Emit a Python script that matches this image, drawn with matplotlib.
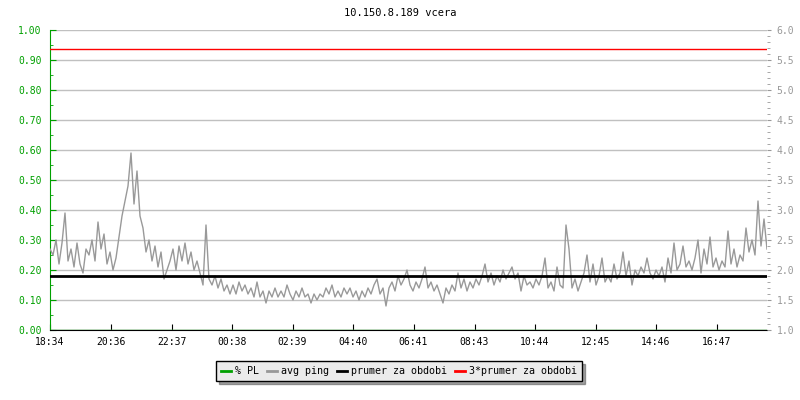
import matplotlib
matplotlib.use("Agg")
import matplotlib.pyplot as plt
from matplotlib.ticker import MultipleLocator, FormatStrFormatter

# minutes since 18:34, one sample every 6 minutes
step = 6
avg_ping = [
    2.35, 2.25, 2.50, 2.10, 2.45, 2.95, 2.15, 2.35, 2.05, 2.45,
    2.10, 1.95, 2.35, 2.25, 2.50, 2.15, 2.80, 2.35, 2.60, 2.10,
    2.30, 2.00, 2.20, 2.55, 2.90, 3.15, 3.40, 3.95, 3.10, 3.65,
    2.90, 2.70, 2.30, 2.50, 2.15, 2.40, 2.05, 2.30, 1.85, 2.00,
    2.15, 2.35, 2.00, 2.40, 2.15, 2.45, 2.10, 2.30, 2.00, 2.15,
    1.95, 1.75, 2.75, 1.85, 1.75, 1.90, 1.70, 1.85, 1.65, 1.75,
    1.60, 1.75, 1.60, 1.80, 1.65, 1.75, 1.60, 1.70, 1.55, 1.80,
    1.55, 1.65, 1.45, 1.65, 1.55, 1.70, 1.55, 1.65, 1.55, 1.75,
    1.60, 1.50, 1.65, 1.55, 1.70, 1.55, 1.60, 1.45, 1.60, 1.50,
    1.60, 1.55, 1.70, 1.60, 1.75, 1.55, 1.65, 1.55, 1.70, 1.60,
    1.70, 1.55, 1.65, 1.50, 1.65, 1.55, 1.70, 1.60, 1.75, 1.85,
    1.60, 1.70, 1.40, 1.70, 1.80, 1.65, 1.90, 1.75, 1.85, 2.00,
    1.75, 1.65, 1.80, 1.70, 1.85, 2.05, 1.70, 1.80, 1.65, 1.75,
    1.60, 1.45, 1.70, 1.60, 1.75, 1.65, 1.95, 1.70, 1.85, 1.65,
    1.80, 1.70, 1.85, 1.75, 1.90, 2.10, 1.80, 1.95, 1.75, 1.90,
    1.80, 2.00, 1.85, 1.95, 2.05, 1.85, 1.95, 1.65, 1.90, 1.75,
    1.80, 1.70, 1.85, 1.75, 1.90, 2.20, 1.70, 1.80, 1.65, 2.05,
    1.75, 1.70, 2.75, 2.35, 1.70, 1.85, 1.65, 1.80, 1.95, 2.25,
    1.80, 2.10, 1.75, 1.90, 2.20, 1.80, 1.90, 1.80, 2.10, 1.85,
    1.95, 2.30, 1.90, 2.15, 1.75, 2.00, 1.90, 2.05, 1.95, 2.20,
    1.95, 1.85, 2.00, 1.90, 2.05, 1.80, 2.20, 1.95, 2.45, 2.00,
    2.10, 2.40, 2.05, 2.15, 2.00, 2.20, 2.50, 1.95, 2.35, 2.10,
    2.55, 2.05, 2.20, 2.00, 2.15, 2.05, 2.65, 2.10, 2.35, 2.05,
    2.25, 2.15, 2.70, 2.30, 2.50, 2.25, 3.15, 2.40, 2.85, 2.35,
]
times = [i * step for i in range(len(avg_ping))]

packet_loss = 0.0
prumer = 1.895
prumer3 = 3 * prumer

tick_minutes = [0, 122, 243, 364, 485, 606, 727, 849, 970, 1091, 1212, 1333]
tick_labels = ["18:34", "20:36", "22:37", "00:38", "02:39", "04:40",
               "06:41", "08:43", "10:44", "12:45", "14:46", "16:47"]

GREEN = "#00a000"
GREY = "#999999"
font = "DejaVu Sans Mono"
plt.rcParams["font.family"] = font
plt.rcParams["font.size"] = 7

fig = plt.figure(figsize=(8, 4), dpi=100)
ax = fig.add_axes([50 / 800, 70 / 400, 717 / 800, 300 / 400])
ax2 = ax.twinx()

ax.set_xlim(0, times[-1])
ax.set_ylim(0, 1)
ax2.set_ylim(1, 6)

ax.yaxis.set_major_locator(MultipleLocator(0.1))
ax.yaxis.set_minor_locator(MultipleLocator(0.05))
ax.yaxis.set_major_formatter(FormatStrFormatter("%.2f"))
ax2.yaxis.set_major_locator(MultipleLocator(0.5))
ax2.yaxis.set_minor_locator(MultipleLocator(0.1))
ax2.yaxis.set_major_formatter(FormatStrFormatter("%.1f"))

ax.set_xticks(tick_minutes)
ax.set_xticklabels(tick_labels)

ax.grid(axis="y", color="#c0c0c0", linewidth=1)
ax.set_axisbelow(True)

for a in (ax, ax2):
    a.spines["top"].set_visible(False)
    a.spines["right"].set_visible(False)
ax2.spines["left"].set_visible(False)
ax2.spines["bottom"].set_visible(False)
ax.spines["left"].set_color(GREEN)
ax.spines["bottom"].set_color("black")

ax.tick_params(axis="y", which="both", direction="in", colors=GREEN, pad=6)
ax.tick_params(axis="y", which="major", length=4)
ax.tick_params(axis="y", which="minor", length=2.5)
ax.tick_params(axis="x", direction="in", length=4, pad=5, colors="black")
ax2.tick_params(axis="y", which="both", direction="out", colors=GREY, pad=4)
ax2.tick_params(axis="y", which="major", length=3)
ax2.tick_params(axis="y", which="minor", length=2)

l_pl = ax.axhline(packet_loss, color=GREEN, linewidth=1, zorder=1, label="% PL")
l_ping, = ax2.plot(times, avg_ping, color=GREY, linewidth=1, label="avg ping")
l_avg = ax2.axhline(prumer, color="black", linewidth=2, label="prumer za obdobi")
l_avg3 = ax2.axhline(prumer3, color="red", linewidth=1, label="3*prumer za obdobi")

fig.text(0.5, 1 - 13 / 400, "10.150.8.189 vcera", ha="center", va="center",
         fontsize=7.5)

leg = fig.legend(handles=[l_pl, l_ping, l_avg, l_avg3], loc="center",
                 bbox_to_anchor=(399 / 800, 1 - 371 / 400), ncol=4,
                 handlelength=1.0, handletextpad=0.4, columnspacing=0.8,
                 fancybox=False, shadow=True, edgecolor="black",
                 facecolor="#ebebeb", framealpha=1, borderpad=0.5,
                 fontsize=7.2)
leg.get_frame().set_linewidth(1)
for line in leg.get_lines():
    line.set_linewidth(2)

fig.savefig("out.png", dpi=100)
